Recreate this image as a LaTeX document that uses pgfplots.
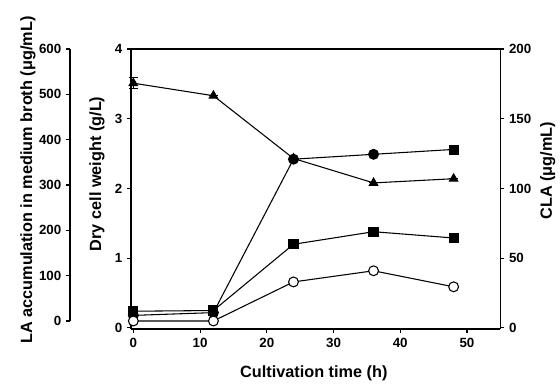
\documentclass[border=0pt]{standalone}
\usepackage{pgfplots}
\pgfplotsset{compat=1.18}
\usepackage{fontspec}
\setmainfont{Liberation Sans}
\begin{document}
\begin{tikzpicture}
\pgfplotsset{
  every axis/.append style={
    scale only axis,
    font=\bfseries\fontsize{10}{12}\selectfont,
    label style={font=\bfseries\fontsize{12.2}{14}\selectfont},
    tick align=outside,
    major tick length=3pt,
    axis line style={line width=0.9pt},
    every tick/.style={line width=0.8pt, black},
    /pgf/number format/assume math mode=true,
  },
}
% outer LA axis
\begin{axis}[
  at={(-45.75pt,6pt)}, anchor=south west,
  width=45.75pt, height=204pt,
  axis y line*=left, hide x axis,
  xmin=0, xmax=1, ymin=0, ymax=600,
  ytick={0,100,...,600},
  ylabel={LA accumulation in medium broth (μg/mL)},
  ylabel style={at={(axis description cs:-0.689,0.518)}, anchor=center, rotate=0},
]
\end{axis}
% right CLA axis
\begin{axis}[
  at={(0pt,0pt)}, anchor=south west,
  width=277pt, height=210pt,
  axis y line*=right, hide x axis,
  xmin=-0.35, xmax=55, ymin=-0.75, ymax=200,
  ytick={0,50,...,200},
  ylabel={CLA (μg/mL)},
  ylabel style={at={(axis description cs:1.128,0.565)}, anchor=center, rotate=0},
]
\end{axis}
% main axis
\begin{axis}[
  at={(0pt,0pt)}, anchor=south west,
  width=277pt, height=210pt,
  axis x line*=bottom, axis y line*=left,
  xmin=-0.35, xmax=55, ymin=-0.015, ymax=4,
  xtick={0,10,...,50}, ytick={0,1,...,4},
  xlabel={Cultivation time (h)},
  ylabel={Dry cell weight (g/L)},
  xlabel style={at={(axis description cs:0.495,-0.157)}, anchor=center},
  ylabel style={at={(axis description cs:-0.092,0.554)}, anchor=center, rotate=0},
  clip=false,
]
\draw[line width=0.9pt] (rel axis cs:0,1) -- (rel axis cs:1,1);
% triangles
\addplot[black, line width=0.8pt, mark=triangle*, mark size=3.6pt,
  error bars/.cd, y dir=both, y explicit, error mark options={rotate=90, mark size=3.5pt, line width=0.7pt}, error bar style={line width=0.7pt}]
  coordinates {(0,3.51) +- (0,0.08) (12,3.33) +- (0,0) (24,2.43) +- (0,0) (36,2.08) +- (0,0) (48,2.14) +- (0,0)};
% filled circles
\addplot[black, line width=0.8pt, mark=*, mark size=3.7pt, mark indices={1,2,3,4}]
  coordinates {(0,0.18) (12,0.22) (24,2.42) (36,2.49) (48,2.56)};
\addplot[black, only marks, mark=square*, mark size=3.4pt]
  coordinates {(48,2.56)};
% squares
\addplot[black, line width=0.8pt, mark=square*, mark size=3.4pt]
  coordinates {(0,0.24) (12,0.25) (24,1.2) (36,1.38) (48,1.29)};
% open circles
\addplot[black, line width=0.8pt, mark=*, mark size=3.7pt, mark options={fill=white, line width=0.8pt}]
  coordinates {(0,0.1) (12,0.1) (24,0.66) (36,0.82) (48,0.59)};
\end{axis}
\pgfresetboundingbox
\path (-98.25pt,246.75pt) rectangle (321.75pt,-40.5pt);
\end{tikzpicture}
\end{document}
